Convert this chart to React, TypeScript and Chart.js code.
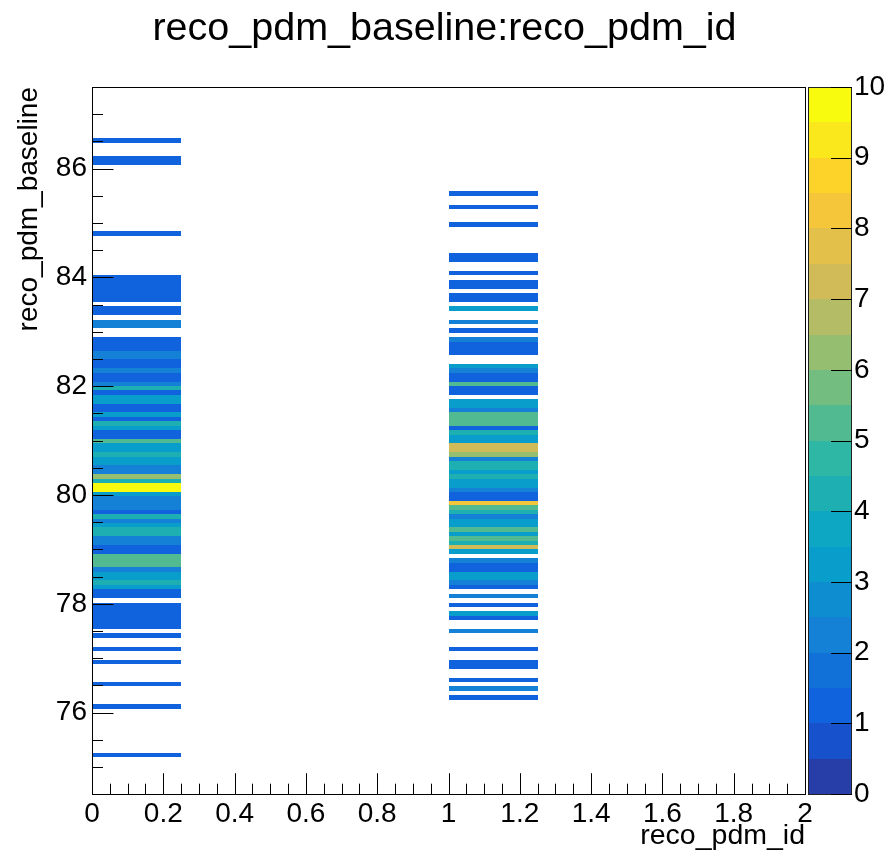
import React, { useEffect, useRef } from 'react';
import { Chart, registerables } from 'chart.js';

Chart.register(...registerables);

// ---------------- texts ----------------
const TITLE = 'reco_pdm_baseline:reco_pdm_id';
const X_TITLE = 'reco_pdm_id';
const Y_TITLE = 'reco_pdm_baseline';

// ---------------- histogram definition ----------------
const X_RANGE = [0, 2];
const X_BIN_WIDTH = 0.25;
const Y_RANGE = [74.5, 87.5];
const Y_FIRST_EDGE = 74.53;
const Y_BIN_WIDTH = 0.08125;
const Z_RANGE = [0, 10];
const N_CONTOURS = 20;

// ---------------- tick values ----------------
const xTickValues = [0, 0.2, 0.4, 0.6, 0.8, 1, 1.2, 1.4, 1.6, 1.8, 2];
const yTickValues = [76, 78, 80, 82, 84, 86];
const zTickValues = [0, 1, 2, 3, 4, 5, 6, 7, 8, 9, 10];
const X_MINOR_STEP = 0.05;
const Y_MINOR_STEP = 0.5;

// ---------------- data: filled y-bins and their entries ----------------
const pdmIds = [0, 1];

const id0Bins = [8, 19, 24, 29, 32, 35, 37, 38, 39, 40, 41, 42, 44, 45, 46, 47, 48, 49, 50, 51, 52, 53, 54, 55, 56, 57, 58, 59, 60, 61, 62, 63, 64, 65, 66, 67, 68, 69, 70, 71, 72, 73, 74, 75, 76, 77, 78, 79, 80, 81, 82, 83, 84, 85, 86, 87, 88, 89, 90, 91, 92, 93, 94, 95, 96, 97, 98, 99, 100, 101, 102, 105, 106, 108, 109, 111, 112, 113, 114, 115, 116, 126, 142, 143, 147];
const id0Counts = [1, 1, 1, 1, 1, 1, 1, 1, 1, 1, 1, 1, 1, 1, 3, 4, 3, 3, 2, 5, 5, 5, 1, 1, 2, 2, 4, 4, 3, 2, 4, 1, 2, 2, 2, 3, 10, 10, 4, 6, 2, 2, 3, 3, 4, 3, 3, 5, 1, 1, 3, 4, 1, 3, 1, 1, 3, 3, 1, 4, 2, 1, 1, 2, 1, 1, 2, 2, 1, 1, 1, 2, 2, 1, 1, 1, 1, 1, 1, 1, 1, 1, 1, 1, 1];

const id1Bins = [21, 23, 25, 28, 29, 32, 36, 39, 40, 42, 44, 46, 47, 48, 49, 50, 51, 52, 54, 55, 56, 57, 58, 59, 60, 61, 62, 63, 64, 65, 66, 67, 68, 69, 70, 71, 72, 73, 74, 75, 76, 77, 78, 79, 80, 81, 82, 83, 84, 85, 86, 87, 88, 90, 91, 92, 93, 94, 95, 96, 99, 100, 101, 102, 104, 106, 109, 111, 112, 114, 115, 117, 120, 121, 128, 132, 135];
const id1Counts = [1, 2, 1, 1, 1, 1, 2, 1, 3, 1, 2, 1, 2, 3, 3, 1, 1, 2, 3, 7, 4, 5, 3, 5, 3, 3, 2, 4, 5, 8, 1, 1, 2, 3, 3, 4, 3, 4, 4, 2, 6, 7, 7, 3, 3, 4, 1, 5, 5, 5, 2, 3, 3, 1, 1, 5, 1, 1, 2, 3, 1, 1, 1, 2, 1, 2, 3, 1, 1, 1, 1, 1, 1, 1, 1, 1, 1];

// ---------------- style ----------------
const FONT = '"Liberation Sans", Arial, Helvetica, sans-serif';
const BIRD_STOPS = [0.0, 0.125, 0.25, 0.375, 0.5, 0.625, 0.75, 0.875, 1.0];
const BIRD_R = [0.2082, 0.0592, 0.078, 0.0232, 0.1802, 0.5301, 0.8186, 0.9956, 0.9764];
const BIRD_G = [0.1664, 0.3599, 0.5041, 0.6419, 0.7178, 0.7492, 0.7328, 0.7862, 0.9832];
const BIRD_B = [0.5293, 0.8684, 0.8385, 0.7914, 0.6425, 0.4662, 0.3499, 0.1968, 0.0539];

function birdColor(t: number): string {
  let k = 0;
  while (k < BIRD_STOPS.length - 2 && t > BIRD_STOPS[k + 1]) k++;
  const f = (t - BIRD_STOPS[k]) / (BIRD_STOPS[k + 1] - BIRD_STOPS[k]);
  const c = (a: number[]) => Math.round(255 * (a[k] + (a[k + 1] - a[k]) * f));
  return `rgb(${c(BIRD_R)},${c(BIRD_G)},${c(BIRD_B)})`;
}

function levelColor(level: number): string {
  const idx = Math.floor(((level + 0.99) * 255) / N_CONTOURS);
  return birdColor(Math.min(idx, 254) / 254);
}

function countColor(v: number): string {
  let level = Math.floor(0.01 + ((v - Z_RANGE[0]) * N_CONTOURS) / (Z_RANGE[1] - Z_RANGE[0]));
  level = Math.max(0, Math.min(N_CONTOURS - 1, level));
  return levelColor(level);
}

const fmt = (v: any) => String(+Number(v).toFixed(3));

const columns = [
  { id: pdmIds[0], bins: id0Bins, counts: id0Counts },
  { id: pdmIds[1], bins: id1Bins, counts: id1Counts },
];

const th2Plugin = {
  id: 'th2colz',
  beforeDatasetsDraw(chart: any) {
    const { ctx, chartArea: a, scales } = chart;
    const xs = scales.x;
    const ys = scales.y;
    ctx.save();
    ctx.beginPath();
    ctx.rect(a.left, a.top, a.right - a.left, a.bottom - a.top);
    ctx.clip();
    chart.data.datasets.forEach((ds: any) => {
      ds.data.forEach((p: any) => {
        const x0 = Math.round(xs.getPixelForValue(p.x - X_BIN_WIDTH / 2));
        const x1 = Math.round(xs.getPixelForValue(p.x + X_BIN_WIDTH / 2));
        const y0 = Math.round(ys.getPixelForValue(p.y + Y_BIN_WIDTH / 2));
        const y1 = Math.round(ys.getPixelForValue(p.y - Y_BIN_WIDTH / 2));
        ctx.fillStyle = countColor(p.v);
        ctx.fillRect(x0, y0, x1 - x0, y1 - y0);
      });
    });
    ctx.restore();
  },
  afterDatasetsDraw(chart: any) {
    const { ctx, chartArea: a, scales } = chart;
    const xs = scales.x;
    const ys = scales.y;
    const zs = scales.z;
    ctx.save();
    ctx.strokeStyle = '#000';
    ctx.lineWidth = 1;
    // frame
    ctx.strokeRect(Math.round(a.left) + 0.5, Math.round(a.top) + 0.5, Math.round(a.right - a.left), Math.round(a.bottom - a.top));
    // x ticks (inside)
    const nx = Math.round((X_RANGE[1] - X_RANGE[0]) / X_MINOR_STEP);
    ctx.beginPath();
    for (let i = 0; i <= nx; i++) {
      const v = X_RANGE[0] + i * X_MINOR_STEP;
      const major = xTickValues.some((t) => Math.abs(t - v) < 1e-6);
      const px = Math.round(xs.getPixelForValue(v)) + 0.5;
      const len = major ? 21 : 10.5;
      ctx.moveTo(px, a.bottom);
      ctx.lineTo(px, a.bottom - len);
    }
    // y ticks (inside)
    const ny = Math.round((Y_RANGE[1] - Y_RANGE[0]) / Y_MINOR_STEP);
    for (let i = 0; i <= ny; i++) {
      const v = Y_RANGE[0] + i * Y_MINOR_STEP;
      const major = yTickValues.some((t) => Math.abs(t - v) < 1e-6);
      const py = Math.round(ys.getPixelForValue(v)) + 0.5;
      const len = major ? 21.5 : 11;
      ctx.moveTo(a.left, py);
      ctx.lineTo(a.left + len, py);
    }
    ctx.stroke();

    // colour palette
    const bx0 = Math.round(a.right) + 3;
    const bx1 = Math.round(a.right) + 47;
    for (let i = 0; i < N_CONTOURS; i++) {
      const lo = Z_RANGE[0] + (i * (Z_RANGE[1] - Z_RANGE[0])) / N_CONTOURS;
      const hi = Z_RANGE[0] + ((i + 1) * (Z_RANGE[1] - Z_RANGE[0])) / N_CONTOURS;
      const y0 = Math.round(zs.getPixelForValue(hi));
      const y1 = Math.round(zs.getPixelForValue(lo));
      ctx.fillStyle = levelColor(i);
      ctx.fillRect(bx0, y0, bx1 - bx0, y1 - y0);
    }
    ctx.strokeStyle = '#222';
    ctx.strokeRect(bx0 + 0.5, Math.round(a.top) + 0.5, bx1 - bx0 - 1, Math.round(a.bottom - a.top));
    ctx.strokeStyle = '#000';
    ctx.beginPath();
    zTickValues.forEach((v) => {
      const py = Math.round(zs.getPixelForValue(v)) + 0.5;
      ctx.moveTo(bx1, py);
      ctx.lineTo(bx1 - 21, py);
    });
    ctx.stroke();
    ctx.restore();
  },
};

export default function App() {
  const ref = useRef<HTMLCanvasElement | null>(null);

  useEffect(() => {
    if (!ref.current) return;
    const tickFont = { family: FONT, size: 28 };
    const chart = new Chart(ref.current, {
      type: 'scatter',
      data: {
        datasets: columns.map((col) => ({
          label: `reco_pdm_id = ${col.id}`,
          data: col.bins.map((b, i) => ({
            x: col.id + X_BIN_WIDTH / 2,
            y: Y_FIRST_EDGE + (b + 0.5) * Y_BIN_WIDTH,
            v: col.counts[i],
          })),
          pointRadius: 0,
          pointHoverRadius: 0,
        })),
      },
      options: {
        responsive: false,
        animation: false,
        devicePixelRatio: 1,
        events: [],
        layout: { padding: 0 },
        plugins: {
          legend: { display: false },
          tooltip: { enabled: false },
          title: {
            display: true,
            text: TITLE,
            color: '#000',
            font: { family: FONT, size: 39.5, weight: 'normal', lineHeight: 1.2 },
            padding: { top: 5, bottom: 87 - 5 - 47.4 },
          },
        },
        scales: {
          x: {
            type: 'linear',
            position: 'bottom',
            min: X_RANGE[0],
            max: X_RANGE[1],
            grid: { display: false, drawTicks: false },
            border: { display: false },
            afterBuildTicks: (s: any) => {
              s.ticks = xTickValues.map((v) => ({ value: v }));
            },
            afterFit: (s: any) => {
              s.height = 64;
            },
            ticks: { autoSkip: false, maxRotation: 0, minRotation: 0, color: '#000', font: tickFont, padding: 3, callback: fmt },
            title: {
              display: true,
              text: X_TITLE,
              align: 'end',
              color: '#000',
              font: { family: FONT, size: 28.5 },
              padding: { top: 0, bottom: 5 },
            },
          },
          y: {
            type: 'linear',
            position: 'left',
            min: Y_RANGE[0],
            max: Y_RANGE[1],
            grid: { display: false, drawTicks: false },
            border: { display: false },
            afterBuildTicks: (s: any) => {
              s.ticks = yTickValues.map((v) => ({ value: v }));
            },
            afterFit: (s: any) => {
              s.width = 92;
            },
            ticks: { autoSkip: false, color: '#000', font: tickFont, padding: 5, callback: fmt },
            title: {
              display: true,
              text: Y_TITLE,
              align: 'end',
              color: '#000',
              font: { family: FONT, size: 28 },
              padding: { top: 12, bottom: 0 },
            },
          },
          z: {
            type: 'linear',
            position: 'right',
            min: Z_RANGE[0],
            max: Z_RANGE[1],
            grid: { display: false, drawTicks: false },
            border: { display: false },
            afterBuildTicks: (s: any) => {
              s.ticks = zTickValues.map((v) => ({ value: v }));
            },
            afterFit: (s: any) => {
              s.width = 84;
            },
            ticks: { autoSkip: false, color: '#000', font: tickFont, padding: 49, callback: fmt },
          },
        },
      },
      plugins: [th2Plugin],
    } as any);
    return () => chart.destroy();
  }, []);

  return (
    <div style={{ position: 'absolute', left: 0, top: 0, width: 889, height: 860, background: '#fff' }}>
      <canvas ref={ref} width={889} height={860} style={{ display: 'block', width: 889, height: 860 }} />
    </div>
  );
}
